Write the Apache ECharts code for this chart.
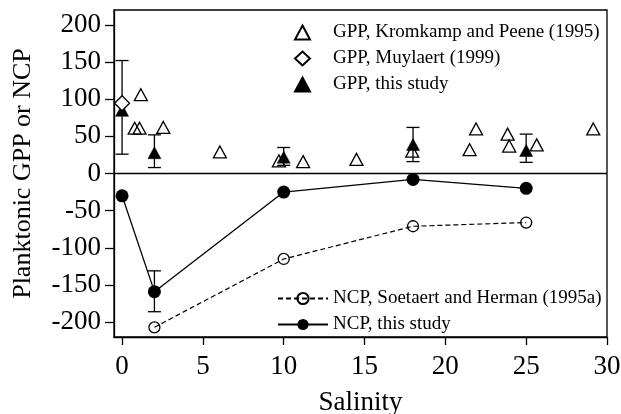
<!DOCTYPE html>
<html>
<head>
<meta charset="utf-8">
<script src="https://cdn.jsdelivr.net/npm/echarts@6/dist/echarts.min.js"></script>
<style>
html,body{margin:0;padding:0;background:#fff;}
#chart{width:621px;height:414px;}
</style>
</head>
<body>
<div id="chart"></div>
<script>
// ---- data ----
var xTicks = [0, 5, 10, 15, 20, 25, 30];
var yTicks = [-200, -150, -100, -50, 0, 50, 100, 150, 200];

var kromX = [0.78, 1.08, 1.16, 2.55, 6.05, 9.7, 11.2, 14.5, 17.95, 21.5, 21.9, 23.85, 23.95, 25.65, 29.15];
var kromY = [61, 61, 106, 62, 29, 17, 16, 19, 30, 32, 60, 53, 37, 38.5, 60];

var muyX = [0];
var muyY = [94.5];

var gppX = [0, 2, 10, 18, 25];
var gppY = [85, 28, 22, 39, 31];
var gppLow = [26, 8, 11, 16, 15];
var gppHigh = [152, 52, 35, 62, 53];

var soetX = [2, 10, 18, 25];
var soetY = [-207, -115, -71, -66];

var ncpX = [0, 2, 10, 18, 25];
var ncpY = [-30, -159, -25, -8, -20];
var ncpErrX = [2];
var ncpLow = [-186];
var ncpHigh = [-131];

var names = {
  krom: 'GPP, Kromkamp and Peene (1995)',
  muy: 'GPP, Muylaert (1999)',
  gpp: 'GPP, this study',
  soet: 'NCP, Soetaert and Herman (1995a)',
  ncp: 'NCP, this study'
};

function zip(xs, ys) { return xs.map(function (x, i) { return [x, ys[i]]; }); }

var errData = gppX.map(function (x, i) { return [x, gppLow[i], gppHigh[i]]; })
  .concat(ncpErrX.map(function (x, i) { return [x, ncpLow[i], ncpHigh[i]]; }));

var FONT = '"Liberation Serif", "Times New Roman", serif';

function renderErr(params, api) {
  var x = api.value(0), lo = api.value(1), hi = api.value(2);
  var pHi = api.coord([x, hi]);
  var pLo = api.coord([x, lo]);
  var w = 6.5;
  var st = { stroke: '#000', lineWidth: 1.3 };
  return {
    type: 'group',
    children: [
      { type: 'line', shape: { x1: pHi[0], y1: pHi[1], x2: pLo[0], y2: pLo[1] }, style: st },
      { type: 'line', shape: { x1: pHi[0] - w, y1: pHi[1], x2: pHi[0] + w, y2: pHi[1] }, style: st },
      { type: 'line', shape: { x1: pLo[0] - w, y1: pLo[1], x2: pLo[0] + w, y2: pLo[1] }, style: st }
    ]
  };
}

var chart = echarts.init(document.getElementById('chart'), null, { renderer: 'canvas' });
var option = {
  animation: false,
  backgroundColor: '#fff',
  grid: {
    left: 114, right: 14, top: 10, bottom: 77, containLabel: false, outerBoundsMode: 'none',
    show: true, borderColor: '#000', borderWidth: 1.3, backgroundColor: 'transparent'
  },
  xAxis: {
    type: 'value', min: -0.5, max: 30,
    name: 'Salinity', nameLocation: 'middle', nameGap: 52,
    nameTextStyle: { fontFamily: FONT, fontSize: 27, color: '#000' },
    axisLine: { show: true, onZero: false, lineStyle: { color: '#000', width: 1.3 } },
    axisTick: { show: true, inside: false, length: 8, customValues: xTicks, lineStyle: { color: '#000', width: 1.3 } },
    axisLabel: { customValues: xTicks, fontFamily: FONT, fontSize: 27, color: '#000', margin: 16 },
    splitLine: { show: false }
  },
  yAxis: {
    type: 'value', min: -220, max: 220,
    name: 'Planktonic GPP or NCP', nameLocation: 'middle', nameGap: 78,
    nameTextStyle: { fontFamily: FONT, fontSize: 26, color: '#000' },
    axisLine: { show: true, onZero: false, lineStyle: { color: '#000', width: 1.3 } },
    axisTick: { show: true, inside: false, length: 9, customValues: yTicks, lineStyle: { color: '#000', width: 1.3 } },
    axisLabel: { customValues: yTicks, fontFamily: FONT, fontSize: 27, color: '#000', margin: 13 },
    splitLine: { show: false }
  },
  legend: [
    {
      data: [
        { name: names.krom, icon: 'triangle' },
        { name: names.muy, icon: 'diamond' },
        { name: names.gpp, icon: 'triangle' }
      ],
      orient: 'vertical', left: 294, top: 23, padding: 0,
      itemWidth: 15, itemHeight: 14, itemGap: 7,
      textStyle: { fontFamily: FONT, fontSize: 19, lineHeight: 19, color: '#000', padding: [0, 0, 0, 18] }
    },
    {
      data: [names.soet, names.ncp],
      orient: 'vertical', left: 277, top: 289, padding: 0,
      itemWidth: 50, itemHeight: 14, itemGap: 7,
      textStyle: { fontFamily: FONT, fontSize: 19, lineHeight: 19, color: '#000' }
    }
  ],
  series: [
    {
      name: 'zero', type: 'line', data: [], silent: true,
      markLine: {
        silent: true, symbol: 'none', label: { show: false },
        lineStyle: { color: '#000', width: 1.3, type: 'solid' },
        data: [{ yAxis: 0 }]
      }
    },
    {
      name: names.soet, type: 'line', data: zip(soetX, soetY),
      symbol: 'circle', symbolSize: 11,
      lineStyle: { color: '#000', width: 1.2, type: [5, 3] },
      itemStyle: { color: 'rgba(255,255,255,0)', borderColor: '#000', borderWidth: 1.3, opacity: 1 },
      z: 3
    },
    {
      name: names.ncp, type: 'line', data: zip(ncpX, ncpY),
      symbol: 'circle', symbolSize: 13,
      lineStyle: { color: '#000', width: 1.3, type: 'solid' },
      itemStyle: { color: '#000', borderColor: '#000', borderWidth: 0, opacity: 1 },
      z: 3
    },
    {
      name: 'errorbars', type: 'custom', data: errData, renderItem: renderErr,
      encode: { x: 0, y: [1, 2] }, silent: true, z: 2
    },
    {
      name: names.krom, type: 'scatter', data: zip(kromX, kromY),
      symbol: 'triangle', symbolSize: [13, 12],
      itemStyle: { color: 'rgba(255,255,255,0)', borderColor: '#000', borderWidth: 1.3, opacity: 1 },
      z: 4
    },
    {
      name: names.gpp, type: 'scatter', data: zip(gppX, gppY),
      symbol: 'triangle', symbolSize: [13, 12],
      itemStyle: { color: '#000', borderColor: '#000', borderWidth: 0.5, opacity: 1 },
      z: 5
    },
    {
      name: names.muy, type: 'scatter', data: zip(muyX, muyY),
      symbol: 'diamond', symbolSize: [15, 15],
      itemStyle: { color: '#fff', borderColor: '#000', borderWidth: 1.3, opacity: 1 },
      z: 6
    }
  ]
};
chart.setOption(option);
</script>
</body>
</html>
